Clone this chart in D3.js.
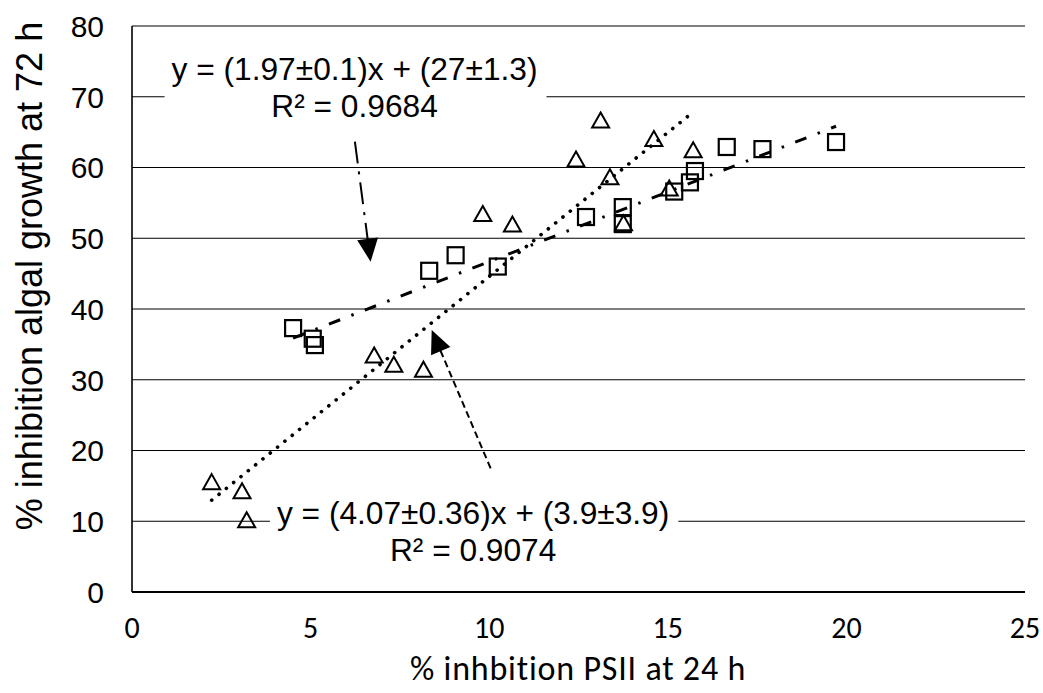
<!DOCTYPE html>
<html>
<head>
<meta charset="utf-8">
<script src="https://cdn.jsdelivr.net/npm/d3@7"></script>
<style>
  html, body { margin: 0; padding: 0; background: #fff; }
  svg { display: block; }
</style>
</head>
<body>
<svg id="chart" width="1043" height="693"></svg>
<script>
// ---- data ----
const squareX = [4.51, 5.06, 5.12, 8.32, 9.06, 10.24, 12.71, 13.74, 13.74, 15.18, 15.62, 15.76, 16.65, 17.65, 19.71];
const squareY = [37.3, 35.8, 34.9, 45.4, 47.6, 46.0, 53.0, 54.4, 52.0, 56.6, 57.9, 59.5, 62.9, 62.6, 63.6];
const triangleX = [2.23, 3.08, 3.21, 6.78, 7.33, 8.16, 9.82, 10.65, 12.43, 13.12, 13.38, 13.76, 14.61, 15.04, 15.71];
const triangleY = [15.6, 14.3, 10.2, 33.5, 32.2, 31.5, 53.5, 52.0, 61.2, 66.7, 58.7, 52.2, 64.1, 57.1, 62.5];
const squareFit = { slope: 1.97, intercept: 27 };
const triangleFit = { slope: 4.07, intercept: 3.9 };
const squareEq = ["y = (1.97±0.1)x + (27±1.3)", "R² = 0.9684"];
const triangleEq = ["y = (4.07±0.36)x + (3.9±3.9)", "R² = 0.9074"];
const squareEqAt = [6.23, 72.36];
const triangleEqAt = [9.55, 9.61];
const squareArrow = [[6.24, 63.65], [6.68, 46.69]];
const triangleArrow = [[10.04, 17.48], [8.39, 37.03]];
const xTicks = [0, 5, 10, 15, 20, 25];
const yTicks = [0, 10, 20, 30, 40, 50, 60, 70, 80];
const xTitle = "% inhbition PSII at 24 h";
const yTitle = "% inhibition algal growth at 72 h";

// ---- layout ----
const svg = d3.select("#chart");
const x = d3.scaleLinear().domain([0, 25]).range([132, 1025]);
const y = d3.scaleLinear().domain([0, 80]).range([592, 26]);
const ARIAL = "'Liberation Sans', Arial, sans-serif";
const CALIBRI = "Carlito, Calibri, Lato, sans-serif";

// gridlines
svg.append("g").selectAll("line").data(yTicks.filter(d => d > 0)).join("line")
  .attr("x1", x(0)).attr("x2", x(25))
  .attr("y1", d => y(d)).attr("y2", d => y(d))
  .attr("stroke", "#000").attr("stroke-width", 1.2);

// axes lines
svg.append("line").attr("x1", x(0)).attr("x2", x(0)).attr("y1", y(80)).attr("y2", y(0))
  .attr("stroke", "#000").attr("stroke-width", 1.6);
svg.append("line").attr("x1", x(0)).attr("x2", x(25)).attr("y1", y(0)).attr("y2", y(0))
  .attr("stroke", "#000").attr("stroke-width", 1.8);

// tick labels
svg.append("g").selectAll("text").data(yTicks).join("text")
  .attr("x", x(0) - 28).attr("y", d => y(d)).attr("dy", "0.36em")
  .attr("text-anchor", "end").attr("font-family", ARIAL).attr("font-size", 30)
  .text(d => d);
svg.append("g").selectAll("text").data(xTicks).join("text")
  .attr("x", d => x(d)).attr("y", y(0) + 46)
  .attr("text-anchor", "middle").attr("font-family", CALIBRI).attr("font-size", 30)
  .text(d => d);

// axis titles
svg.append("text").attr("x", 578).attr("y", 680).attr("text-anchor", "middle")
  .attr("font-family", CALIBRI).attr("font-size", 34).attr("letter-spacing", 0.8).text(xTitle);
svg.append("text").attr("transform", "translate(42,276) rotate(-90)").attr("text-anchor", "middle")
  .attr("font-family", ARIAL).attr("font-size", 36).text(yTitle);

// trend lines
function fitLine(fit, xs, dash, width, cap) {
  const x0 = d3.min(xs), x1 = d3.max(xs);
  svg.append("line")
    .attr("x1", x(x0)).attr("y1", y(fit.slope * x0 + fit.intercept))
    .attr("x2", x(x1)).attr("y2", y(fit.slope * x1 + fit.intercept))
    .attr("stroke", "#000").attr("stroke-width", width)
    .attr("stroke-dasharray", dash).attr("stroke-linecap", cap);
}
fitLine(squareFit, squareX, "12,12,2.5,12", 3, "butt");
fitLine(triangleFit, triangleX, "0.1,9.3", 3.6, "round");

// markers
const sq = 16;
svg.append("g").selectAll("rect").data(d3.range(squareX.length)).join("rect")
  .attr("x", i => x(squareX[i]) - sq / 2).attr("y", i => y(squareY[i]) - sq / 2)
  .attr("width", sq).attr("height", sq)
  .attr("fill", "none").attr("stroke", "#000").attr("stroke-width", 2.2);
const tw = 17, th = 15;
svg.append("g").selectAll("path").data(d3.range(triangleX.length)).join("path")
  .attr("d", i => {
    const cx = x(triangleX[i]), cy = y(triangleY[i]);
    return `M${cx},${cy - th / 2}L${cx + tw / 2},${cy + th / 2}L${cx - tw / 2},${cy + th / 2}Z`;
  })
  .attr("fill", "none").attr("stroke", "#000").attr("stroke-width", 2).attr("stroke-linejoin", "miter");

// arrows
function arrow(pts, dash) {
  const [ax, ay] = [x(pts[0][0]), y(pts[0][1])];
  const [bx, by] = [x(pts[1][0]), y(pts[1][1])];
  const len = Math.hypot(bx - ax, by - ay);
  const ux = (bx - ax) / len, uy = (by - ay) / len;
  const hl = 23, hw = 10.5;
  const baseX = bx - ux * hl, baseY = by - uy * hl;
  svg.append("line").attr("x1", ax).attr("y1", ay).attr("x2", baseX + ux * 2).attr("y2", baseY + uy * 2)
    .attr("stroke", "#000").attr("stroke-width", 2).attr("stroke-dasharray", dash);
  svg.append("path")
    .attr("d", `M${bx},${by}L${baseX - uy * hw},${baseY + ux * hw}L${baseX + uy * hw},${baseY - ux * hw}Z`)
    .attr("fill", "#000");
}
arrow(squareArrow, "22,8,3,8");
arrow(triangleArrow, "7,4");

// equation labels with white backgrounds
function eqLabel(lines, at) {
  const g = svg.append("g");
  const bg = g.append("rect").attr("fill", "#fff");
  const t = g.append("text").attr("font-family", ARIAL).attr("font-size", 31.7)
    .attr("text-anchor", "middle");
  lines.forEach((s, i) => {
    t.append("tspan").attr("x", x(at[0])).attr("y", y(at[1]) + i * 37).text(s);
  });
  const b = t.node().getBBox();
  bg.attr("x", b.x - 7).attr("y", b.y).attr("width", b.width + 16).attr("height", b.height);
}
eqLabel(squareEq, squareEqAt);
eqLabel(triangleEq, triangleEqAt);
</script>
</body>
</html>
